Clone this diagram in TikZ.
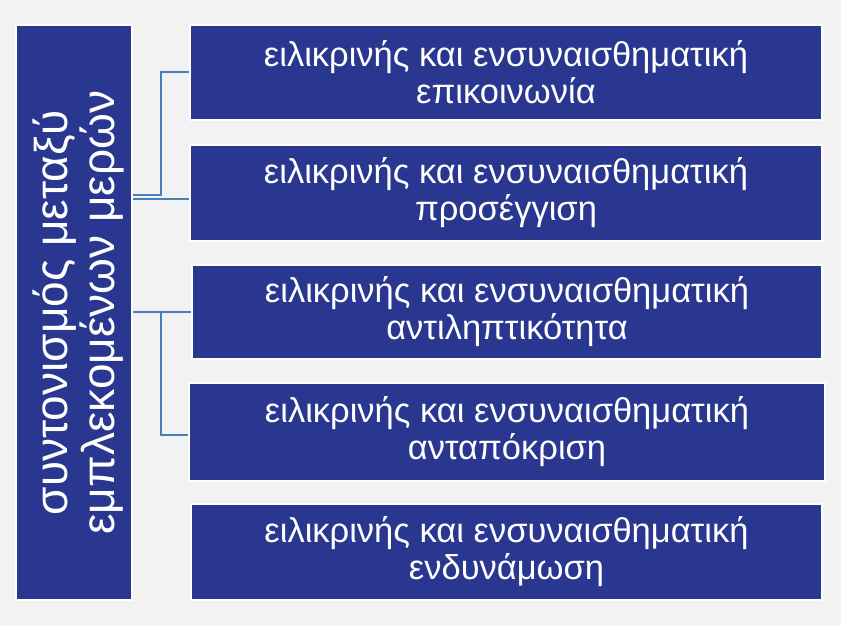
\documentclass[tikz,border=0pt]{standalone}
\usepackage{fontspec}
\setmainfont{Liberation Sans}
\definecolor{bg}{RGB}{242,242,242}
\definecolor{boxblue}{RGB}{41,55,145}
\definecolor{linkblue}{RGB}{74,126,187}
\tikzset{
  itembox/.style={draw=white, line width=2.5pt, fill=boxblue, text=white,
    align=center, inner sep=0pt, font=\fontsize{34.5}{37}\selectfont},
  mainbox/.style={draw=white, line width=2.5pt, fill=boxblue, inner sep=0pt},
  maintext/.style={text=white, align=center, inner sep=0pt, rotate=90,
    font=\fontsize{46}{47}\selectfont},
  link/.style={draw=linkblue, line width=2pt}
}
\begin{document}
\begin{tikzpicture}[x=1pt,y=-1pt]
\fill[bg] (0,0) rectangle (841,626);
\useasboundingbox (0,0) rectangle (841,626);
\node[mainbox, minimum width=116pt, minimum height=575pt] (L) at (74,312.5) {};
\node[maintext] (Lt) at (78,312.5) {συντονισμός μεταξύ\\εμπλεκομένων μερών};
\node[itembox, minimum width=632pt, minimum height=95pt] (b1) at (506,72.5)
  {ειλικρινής και ενσυναισθηματική\\επικοινωνία};
\node[itembox, minimum width=632pt, minimum height=96pt] (b2) at (506,193)
  {ειλικρινής και ενσυναισθηματική\\προσέγγιση};
\node[itembox, minimum width=630pt, minimum height=94pt] (b3) at (507,312)
  {ειλικρινής και ενσυναισθηματική\\αντιληπτικότητα};
\node[itembox, minimum width=636pt, minimum height=98pt] (b4) at (507,432)
  {ειλικρινής και ενσυναισθηματική\\ανταπόκριση};
\node[itembox, minimum width=631pt, minimum height=96pt] (b5) at (506.5,552)
  {ειλικρινής και ενσυναισθηματική\\ενδυνάμωση};
\coordinate (j1) at (161,195);
\coordinate (r2) at (0,199);
\coordinate (j2) at (161,312.5);
\coordinate (r4) at (0,435);
\draw[link] (L.east |- j1) -- (j1) |- (b1.west);
\draw[link] (L.east |- r2) -- (b2.west |- r2);
\draw[link] (L.east |- b3.west) -- (b3.west);
\draw[link] (j2) |- (b4.west |- r4);
\end{tikzpicture}
\end{document}
